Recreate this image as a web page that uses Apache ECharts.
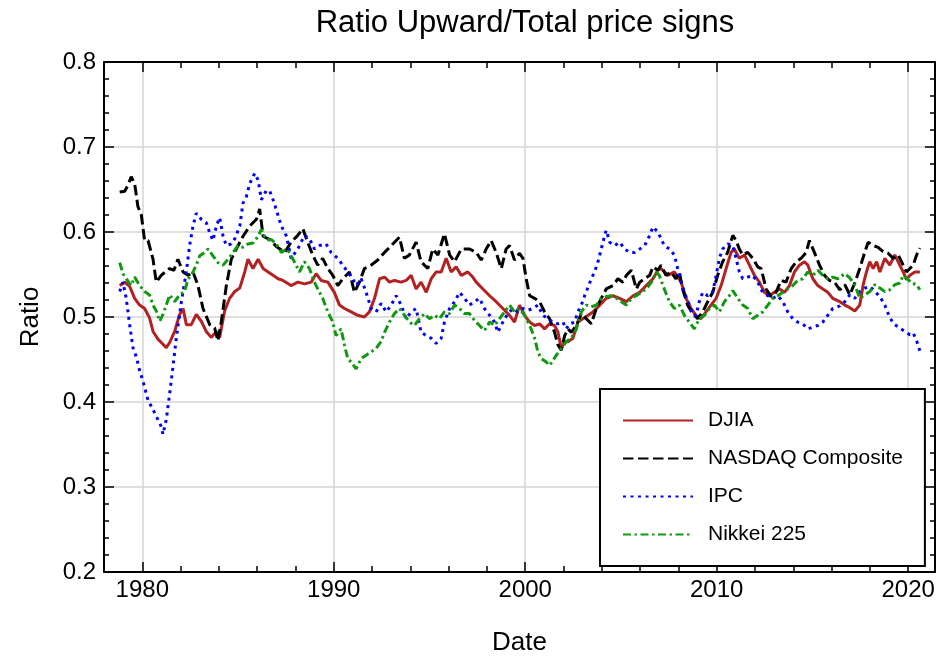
<!DOCTYPE html>
<html>
<head>
<meta charset="utf-8">
<script src="https://cdn.jsdelivr.net/npm/echarts@6/dist/echarts.min.js"></script>
<style>
html,body{margin:0;padding:0;background:#fff;}
#chart{width:945px;height:661px;}
</style>
</head>
<body>
<div id="chart"></div>
<script>
// ---- Data ----
const seriesNames = ['DJIA', 'NASDAQ Composite', 'IPC', 'Nikkei 225'];
const xTickLabels = [1980, 1990, 2000, 2010, 2020];
const yTickLabels = [0.2, 0.3, 0.4, 0.5, 0.6, 0.7, 0.8];

const djiaYears = [1978.82,1979.08,1979.34,1979.6,1979.86,1980.12,1980.38,1980.56,1980.82,1981.08,1981.25,1981.43,1981.69,1981.95,1982.13,1982.3,1982.56,1982.82,1983.08,1983.34,1983.6,1983.87,1984.04,1984.3,1984.56,1984.83,1985.09,1985.35,1985.52,1985.78,1986.05,1986.31,1986.57,1986.83,1987.09,1987.35,1987.77,1988.12,1988.47,1988.82,1989.08,1989.34,1989.69,1990.03,1990.3,1990.56,1990.91,1991.25,1991.6,1991.86,1992.13,1992.39,1992.65,1992.91,1993.17,1993.52,1993.78,1994.04,1994.3,1994.56,1994.83,1995.09,1995.35,1995.61,1995.87,1996.13,1996.39,1996.66,1997.0,1997.26,1997.44,1997.79,1998.14,1998.48,1998.83,1999.18,1999.44,1999.7,1999.97,2000.23,2000.49,2000.75,2001.01,2001.27,2001.53,2001.71,2001.88,2002.06,2002.23,2002.49,2002.75,2003.01,2003.28,2003.54,2003.89,2004.23,2004.58,2004.93,2005.28,2005.63,2005.98,2006.32,2006.67,2006.93,2007.09,2007.44,2007.79,2008.14,2008.4,2008.66,2008.92,2009.18,2009.44,2009.7,2009.97,2010.23,2010.49,2010.75,2010.92,2011.18,2011.45,2011.71,2011.97,2012.23,2012.49,2012.75,2013.01,2013.28,2013.54,2013.8,2014.06,2014.32,2014.58,2014.76,2015.02,2015.28,2015.54,2015.8,2016.06,2016.43,2016.69,2016.95,2017.21,2017.47,2017.65,2017.82,2017.99,2018.17,2018.35,2018.52,2018.78,2019.04,2019.3,2019.56,2019.74,2019.91,2020.09,2020.35,2020.61];
const djiaValues = [0.537,0.541,0.536,0.522,0.514,0.51,0.499,0.483,0.474,0.468,0.464,0.47,0.483,0.503,0.51,0.491,0.491,0.503,0.495,0.483,0.476,0.483,0.476,0.507,0.522,0.53,0.534,0.553,0.568,0.557,0.568,0.557,0.553,0.549,0.545,0.543,0.537,0.541,0.539,0.541,0.551,0.543,0.541,0.529,0.514,0.51,0.506,0.502,0.5,0.506,0.522,0.545,0.547,0.541,0.543,0.541,0.543,0.549,0.533,0.541,0.529,0.545,0.553,0.553,0.569,0.553,0.559,0.549,0.553,0.547,0.541,0.533,0.525,0.518,0.51,0.502,0.494,0.514,0.502,0.494,0.49,0.492,0.486,0.492,0.49,0.482,0.463,0.471,0.471,0.475,0.494,0.498,0.502,0.506,0.514,0.522,0.525,0.522,0.518,0.525,0.529,0.537,0.545,0.555,0.557,0.549,0.553,0.541,0.522,0.51,0.502,0.498,0.506,0.514,0.522,0.537,0.557,0.576,0.58,0.569,0.573,0.561,0.549,0.541,0.529,0.525,0.529,0.533,0.529,0.537,0.553,0.561,0.565,0.561,0.545,0.537,0.533,0.529,0.522,0.518,0.514,0.511,0.507,0.514,0.538,0.553,0.565,0.557,0.565,0.553,0.569,0.561,0.573,0.561,0.553,0.544,0.549,0.553,0.553];

const nasdaqYears = [1978.82,1979.08,1979.25,1979.42,1979.6,1979.77,1979.95,1980.12,1980.3,1980.56,1980.73,1980.99,1981.2,1981.43,1981.65,1981.86,1982.13,1982.39,1982.65,1982.91,1983.17,1983.52,1983.78,1983.95,1984.13,1984.39,1984.65,1984.91,1985.26,1985.61,1985.96,1986.13,1986.31,1986.66,1987.0,1987.44,1987.77,1988.12,1988.38,1988.64,1988.9,1989.16,1989.42,1989.69,1989.95,1990.21,1990.47,1990.82,1991.08,1991.34,1991.6,1991.95,1992.3,1992.65,1993.0,1993.43,1993.69,1993.95,1994.3,1994.56,1994.91,1995.17,1995.44,1995.78,1996.05,1996.31,1996.66,1997.09,1997.44,1997.7,1997.96,1998.22,1998.48,1998.75,1999.0,1999.18,1999.44,1999.7,1999.88,2000.05,2000.23,2000.49,2000.75,2001.01,2001.27,2001.53,2001.71,2001.88,2002.06,2002.23,2002.4,2002.67,2002.93,2003.19,2003.45,2003.71,2003.97,2004.23,2004.58,2004.84,2005.1,2005.28,2005.54,2005.8,2005.98,2006.24,2006.5,2006.67,2006.93,2007.09,2007.35,2007.61,2007.87,2008.05,2008.22,2008.48,2008.75,2009.01,2009.27,2009.53,2009.79,2010.05,2010.31,2010.57,2010.84,2011.01,2011.18,2011.36,2011.62,2011.88,2012.14,2012.32,2012.58,2012.84,2013.1,2013.36,2013.62,2013.89,2014.15,2014.41,2014.67,2014.84,2015.1,2015.37,2015.63,2015.89,2016.15,2016.43,2016.69,2016.95,2017.21,2017.47,2017.74,2017.91,2018.17,2018.43,2018.69,2018.95,2019.22,2019.48,2019.74,2019.91,2020.09,2020.26,2020.44,2020.61];
const nasdaqValues = [0.647,0.648,0.655,0.665,0.657,0.63,0.62,0.59,0.59,0.568,0.541,0.549,0.553,0.557,0.555,0.568,0.553,0.549,0.553,0.537,0.51,0.491,0.487,0.472,0.495,0.537,0.568,0.58,0.595,0.607,0.615,0.627,0.595,0.591,0.583,0.576,0.588,0.596,0.604,0.588,0.573,0.561,0.569,0.557,0.549,0.537,0.545,0.553,0.529,0.541,0.557,0.561,0.567,0.576,0.584,0.594,0.569,0.573,0.588,0.565,0.557,0.58,0.573,0.598,0.573,0.565,0.58,0.58,0.576,0.567,0.58,0.59,0.576,0.557,0.58,0.584,0.567,0.575,0.569,0.545,0.525,0.522,0.518,0.506,0.498,0.482,0.467,0.461,0.478,0.486,0.482,0.49,0.504,0.498,0.492,0.51,0.522,0.533,0.537,0.545,0.541,0.549,0.555,0.533,0.541,0.545,0.549,0.559,0.555,0.561,0.549,0.553,0.545,0.553,0.533,0.514,0.504,0.498,0.506,0.518,0.529,0.549,0.565,0.576,0.596,0.59,0.58,0.573,0.576,0.569,0.559,0.557,0.533,0.524,0.529,0.543,0.541,0.557,0.565,0.569,0.576,0.59,0.576,0.561,0.549,0.543,0.541,0.532,0.538,0.526,0.54,0.557,0.577,0.588,0.584,0.582,0.577,0.575,0.569,0.573,0.561,0.553,0.557,0.561,0.573,0.581];

const ipcYears = [1978.82,1978.99,1979.16,1979.34,1979.51,1979.69,1979.86,1980.03,1980.3,1980.56,1980.82,1980.99,1981.08,1981.25,1981.43,1981.6,1981.78,1982.04,1982.3,1982.47,1982.65,1982.82,1983.08,1983.34,1983.52,1983.69,1983.87,1984.04,1984.22,1984.39,1984.65,1984.83,1985.09,1985.26,1985.44,1985.61,1985.87,1986.05,1986.22,1986.48,1986.66,1986.83,1987.0,1987.26,1987.53,1987.77,1988.12,1988.47,1988.73,1988.99,1989.25,1989.6,1989.86,1990.21,1990.47,1990.73,1990.99,1991.17,1991.43,1991.69,1991.95,1992.21,1992.47,1992.74,1993.0,1993.26,1993.52,1993.78,1994.04,1994.3,1994.56,1994.83,1995.09,1995.35,1995.61,1995.78,1996.05,1996.31,1996.57,1996.83,1997.09,1997.35,1997.61,1997.87,1998.14,1998.4,1998.57,1998.83,1999.09,1999.36,1999.62,1999.88,2000.14,2000.4,2000.66,2000.92,2001.18,2001.45,2001.71,2001.97,2002.14,2002.32,2002.58,2002.75,2002.93,2003.1,2003.28,2003.45,2003.62,2003.8,2003.97,2004.15,2004.23,2004.41,2004.67,2004.93,2005.19,2005.45,2005.71,2005.98,2006.24,2006.5,2006.67,2006.93,2007.26,2007.53,2007.79,2007.96,2008.14,2008.31,2008.57,2008.75,2008.92,2009.09,2009.27,2009.53,2009.79,2009.97,2010.14,2010.31,2010.57,2010.84,2011.01,2011.18,2011.36,2011.62,2011.88,2012.14,2012.4,2012.67,2012.93,2013.19,2013.45,2013.71,2013.97,2014.23,2014.49,2014.76,2015.02,2015.28,2015.54,2015.8,2016.06,2016.43,2016.69,2016.95,2017.21,2017.47,2017.74,2018.0,2018.26,2018.52,2018.78,2019.04,2019.3,2019.56,2019.83,2020.09,2020.26,2020.44,2020.61];
const ipcValues = [0.53,0.541,0.522,0.491,0.464,0.453,0.437,0.425,0.402,0.391,0.379,0.371,0.362,0.379,0.41,0.441,0.476,0.518,0.553,0.584,0.607,0.622,0.615,0.611,0.599,0.59,0.607,0.617,0.595,0.584,0.586,0.592,0.607,0.634,0.642,0.657,0.669,0.661,0.638,0.649,0.648,0.638,0.626,0.607,0.595,0.569,0.58,0.596,0.592,0.58,0.584,0.586,0.576,0.569,0.561,0.553,0.545,0.537,0.545,0.529,0.51,0.506,0.516,0.506,0.514,0.525,0.514,0.498,0.506,0.51,0.482,0.478,0.475,0.469,0.475,0.494,0.51,0.518,0.529,0.522,0.514,0.518,0.522,0.51,0.502,0.494,0.482,0.494,0.504,0.51,0.506,0.51,0.508,0.51,0.514,0.502,0.498,0.494,0.492,0.494,0.486,0.492,0.494,0.506,0.514,0.525,0.535,0.545,0.553,0.565,0.58,0.596,0.602,0.588,0.584,0.588,0.58,0.576,0.576,0.58,0.584,0.596,0.606,0.6,0.584,0.58,0.573,0.557,0.541,0.529,0.514,0.502,0.502,0.518,0.529,0.525,0.529,0.549,0.569,0.58,0.586,0.584,0.569,0.553,0.545,0.547,0.549,0.541,0.529,0.525,0.522,0.525,0.518,0.506,0.498,0.494,0.492,0.486,0.488,0.49,0.494,0.502,0.51,0.513,0.518,0.526,0.522,0.53,0.534,0.536,0.53,0.524,0.514,0.499,0.491,0.487,0.483,0.479,0.481,0.472,0.46];

const nikkeiYears = [1978.82,1978.99,1979.16,1979.42,1979.6,1979.86,1980.12,1980.38,1980.56,1980.73,1980.91,1981.08,1981.25,1981.43,1981.69,1981.95,1982.21,1982.39,1982.56,1982.82,1983.0,1983.26,1983.43,1983.69,1983.95,1984.22,1984.48,1984.74,1985.0,1985.26,1985.52,1985.78,1986.05,1986.22,1986.48,1986.74,1987.0,1987.26,1987.53,1987.68,1987.94,1988.21,1988.47,1988.73,1988.99,1989.16,1989.42,1989.69,1989.95,1990.12,1990.38,1990.56,1990.73,1990.91,1991.17,1991.43,1991.69,1991.95,1992.21,1992.47,1992.65,1992.91,1993.17,1993.43,1993.69,1993.95,1994.21,1994.48,1994.74,1995.0,1995.26,1995.52,1995.78,1996.05,1996.31,1996.57,1996.83,1997.09,1997.35,1997.61,1997.87,1998.14,1998.4,1998.66,1998.92,1999.18,1999.44,1999.7,1999.97,2000.14,2000.31,2000.49,2000.66,2000.84,2001.1,2001.27,2001.45,2001.62,2001.88,2002.14,2002.4,2002.67,2002.93,2003.19,2003.45,2003.71,2003.97,2004.23,2004.49,2004.76,2005.02,2005.28,2005.54,2005.8,2006.06,2006.32,2006.59,2006.85,2007.0,2007.26,2007.53,2007.79,2008.05,2008.31,2008.57,2008.83,2009.09,2009.36,2009.62,2009.88,2010.14,2010.4,2010.66,2010.84,2011.1,2011.36,2011.62,2011.88,2012.14,2012.4,2012.67,2012.93,2013.19,2013.45,2013.71,2013.97,2014.23,2014.49,2014.76,2015.02,2015.28,2015.54,2015.8,2016.06,2016.32,2016.69,2016.95,2017.21,2017.47,2017.74,2018.0,2018.26,2018.52,2018.78,2019.04,2019.3,2019.56,2019.74,2019.91,2020.17,2020.44,2020.61];
const nikkeiValues = [0.564,0.551,0.545,0.537,0.547,0.537,0.53,0.526,0.514,0.507,0.495,0.503,0.514,0.526,0.518,0.526,0.53,0.545,0.549,0.561,0.572,0.576,0.58,0.572,0.564,0.561,0.568,0.576,0.584,0.582,0.586,0.587,0.595,0.603,0.591,0.591,0.586,0.576,0.58,0.576,0.565,0.553,0.565,0.557,0.541,0.533,0.522,0.506,0.494,0.478,0.486,0.467,0.451,0.447,0.439,0.451,0.455,0.459,0.463,0.471,0.482,0.494,0.504,0.51,0.502,0.494,0.49,0.498,0.504,0.498,0.502,0.498,0.506,0.504,0.514,0.51,0.504,0.504,0.496,0.49,0.484,0.494,0.49,0.498,0.506,0.514,0.506,0.51,0.502,0.494,0.486,0.475,0.459,0.451,0.447,0.443,0.449,0.455,0.463,0.471,0.475,0.486,0.506,0.514,0.512,0.514,0.522,0.524,0.525,0.522,0.518,0.514,0.522,0.525,0.529,0.533,0.541,0.553,0.549,0.533,0.518,0.51,0.514,0.502,0.494,0.486,0.498,0.502,0.51,0.514,0.506,0.518,0.525,0.531,0.522,0.514,0.51,0.498,0.502,0.506,0.514,0.522,0.525,0.529,0.533,0.537,0.543,0.545,0.553,0.549,0.555,0.549,0.545,0.547,0.545,0.551,0.546,0.538,0.522,0.526,0.53,0.538,0.534,0.53,0.532,0.538,0.54,0.549,0.546,0.54,0.538,0.532];

// ---- Chart ----
function zip(xs, ys) { return xs.map((x, i) => [x, ys[i]]); }
const FONT = '"Liberation Sans", Arial, Helvetica, sans-serif';
const seriesColors = ['#b22222', '#000000', '#0000ff', '#109910'];
const seriesDash = ['solid', [10.5, 4.5], [3, 4.5], [8, 3.5, 2.5, 3.5]];
const seriesData = [zip(djiaYears, djiaValues), zip(nasdaqYears, nasdaqValues), zip(ipcYears, ipcValues), zip(nikkeiYears, nikkeiValues)];

const chart = echarts.init(document.getElementById('chart'), null, {renderer: 'canvas'});

const xMin = 1978, xMax = 2021.4;
const yMin = yTickLabels[0], yMax = yTickLabels[yTickLabels.length - 1];
const axisLineStyle = {color: '#000', width: 2};
const gridColor = '#d4d4d4';

function xAxisCfg(pos, main) {
  return {
    type: 'value', position: pos, min: xMin, max: xMax, splitNumber: 5,
    axisLine: {show: true, onZero: false, lineStyle: axisLineStyle},
    axisTick: {show: true, inside: true, length: 10, lineStyle: {color: '#000', width: 1.5}},
    minorTick: {show: true, splitNumber: 5, length: 6, lineStyle: {color: '#000', width: 1.5}},
    axisLabel: main ? {show: true, margin: 6, fontSize: 24, color: '#000', fontFamily: FONT,
      formatter: v => (xTickLabels.indexOf(Math.round(v)) >= 0 && Math.abs(v - Math.round(v)) < 1e-6) ? String(Math.round(v)) : '',
      showMinLabel: true, showMaxLabel: true} : {show: false},
    splitLine: main ? {show: true, lineStyle: {color: gridColor, width: 1.5}} : {show: false},
    minorSplitLine: {show: false},
    name: main ? 'Date' : '', nameLocation: 'middle', nameGap: 58,
    nameTextStyle: {fontSize: 26, color: '#000', fontFamily: FONT}
  };
}
function yAxisCfg(pos, main) {
  return {
    type: 'value', position: pos, min: yMin, max: yMax, interval: 0.1,
    axisLine: {show: true, onZero: false, lineStyle: axisLineStyle},
    axisTick: {show: true, inside: true, length: 10, lineStyle: {color: '#000', width: 1.5}},
    minorTick: {show: true, splitNumber: 5, length: 5, lineStyle: {color: '#000', width: 1.5}},
    axisLabel: main ? {show: true, margin: 8, fontSize: 24, color: '#000', fontFamily: FONT,
      formatter: v => v.toFixed(1)} : {show: false},
    splitLine: main ? {show: true, lineStyle: {color: gridColor, width: 1.5}} : {show: false},
    name: main ? 'Ratio' : '', nameLocation: 'middle', nameGap: 60,
    nameTextStyle: {fontSize: 26, color: '#000', fontFamily: FONT, padding: [0, 0, 0, 0]}
  };
}

const option = {
  animation: false,
  backgroundColor: '#fff',
  title: {
    text: 'Ratio Upward/Total price signs', left: 520, top: 3, textAlign: 'center',
    textStyle: {fontSize: 31, fontWeight: 'normal', color: '#000', fontFamily: FONT}
  },
  grid: {left: 104, right: 10, top: 62, bottom: 85, containLabel: false},
  legend: {
    orient: 'vertical', left: 600, top: 389,
    itemWidth: 70, itemHeight: 14, itemGap: 17,
    padding: [21, 22, 21, 22],
    borderColor: '#000', borderWidth: 2, backgroundColor: '#fff',
    itemStyle: {opacity: 0},
    textStyle: {fontSize: 21, color: '#000', fontFamily: FONT, padding: [0, 0, 0, 10]},
    data: seriesNames
  },
  xAxis: [xAxisCfg('bottom', true), xAxisCfg('top', false)],
  yAxis: [yAxisCfg('left', true), yAxisCfg('right', false)],
  series: seriesNames.map((name, i) => ({
    name: name, type: 'line', xAxisIndex: 0, yAxisIndex: 0,
    data: seriesData[i], showSymbol: false, symbol: 'none',
    lineStyle: {color: seriesColors[i], width: 3, type: seriesDash[i]},
    itemStyle: {color: seriesColors[i]},
    z: 2 + i
  }))
};
chart.setOption(option);
</script>
</body>
</html>
